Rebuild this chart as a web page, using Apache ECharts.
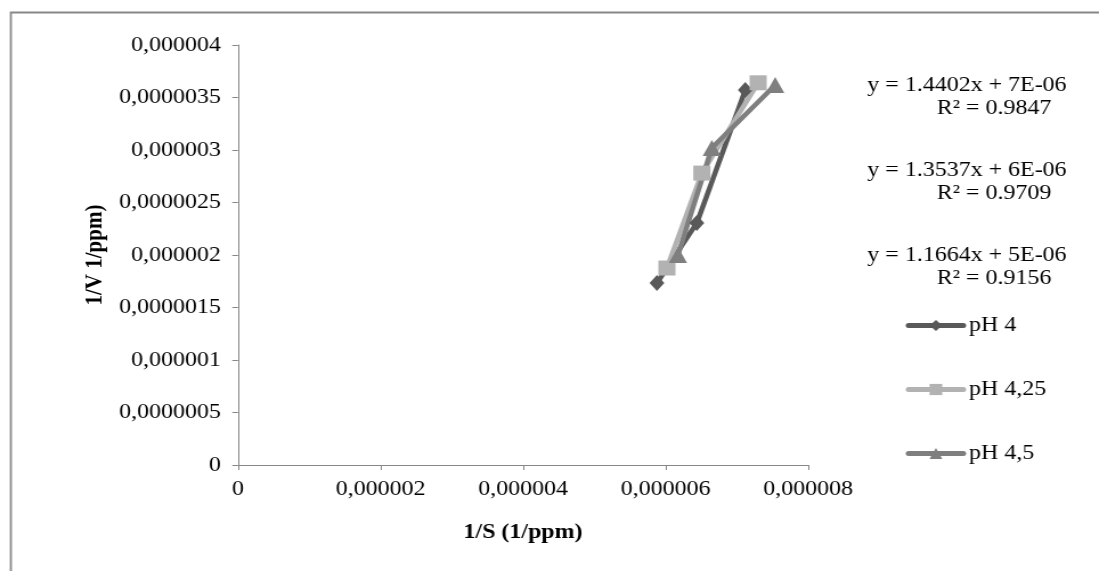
<!DOCTYPE html>
<html>
<head>
<meta charset="utf-8">
<script src="https://cdn.jsdelivr.net/npm/echarts@6/dist/echarts.min.js"></script>
<style>
  html, body { margin: 0; padding: 0; background: #fff; overflow: hidden; }
  /* the source picture is a bit stretched sideways, so draw narrower and widen */
  #chart { width: 964px; height: 571px; transform: scaleX(1.14); transform-origin: 0 0; }
</style>
</head>
<body>
<div id="chart"></div>
<script>
// data: [1/S, 1/V]
const ph4 = [[5.88e-6, 1.733e-6], [6.44e-6, 2.305e-6], [7.12e-6, 3.571e-6]];
const ph425 = [[6.02e-6, 1.876e-6], [6.51e-6, 2.78e-6], [7.30e-6, 3.64e-6]];
const ph45 = [[6.175e-6, 2.0e-6], [6.65e-6, 3.02e-6], [7.54e-6, 3.62e-6]];
const seriesNames = ['pH 4', 'pH 4,25', 'pH 4,5'];

const xStep = 2e-6;
const yStep = 5e-7;
const xTickLabels = ['0', '0,000002', '0,000004', '0,000006', '0,000008'];
const yTickLabels = ['0', '0,0000005', '0,000001', '0,0000015', '0,000002',
  '0,0000025', '0,000003', '0,0000035', '0,000004'];

const trendLines = [
  ['y = 1.4402x + 7E-06', 'R² = 0.9847'],
  ['y = 1.3537x + 6E-06', 'R² = 0.9709'],
  ['y = 1.1664x + 5E-06', 'R² = 0.9156']
];

const font = 'Liberation Serif';
const fs = 21;
const sx = 1.14;
const W = 964;
const axisColor = '#868686';

const eqText = [];
trendLines.forEach((t, i) => {
  eqText.push({
    type: 'text', x: 967 / sx, y: 85 + i * 85,
    style: { text: t[0], font: fs + 'px ' + font, fill: '#000', align: 'center', verticalAlign: 'middle' }
  });
  eqText.push({
    type: 'text', x: 994 / sx, y: 108 + i * 85,
    style: { text: t[1], font: fs + 'px ' + font, fill: '#000', align: 'center', verticalAlign: 'middle' }
  });
});

const options = {
  animation: false,
  textStyle: { fontFamily: font },
  grid: {
    left: 238 / sx,
    right: W - 808 / sx,
    top: 45,
    bottom: 106
  },
  legend: {
    orient: 'vertical',
    left: 900 / sx,
    top: 310,
    itemWidth: 48,
    itemHeight: 14,
    itemGap: 43,
    lineStyle: { width: 5, cap: 'round' },
    textStyle: { fontFamily: font, fontSize: fs, color: '#000' },
    data: seriesNames
  },
  xAxis: {
    type: 'value',
    min: 0,
    max: 8e-6,
    interval: xStep,
    name: '1/S (1/ppm)',
    nameLocation: 'middle',
    nameGap: 57,
    nameTextStyle: { fontFamily: font, fontSize: fs, fontWeight: 'bold', color: '#000' },
    splitLine: { show: false },
    axisLine: { onZero: false, lineStyle: { color: axisColor, width: 1 } },
    axisTick: { show: true, length: 5, lineStyle: { color: axisColor } },
    axisLabel: {
      margin: 14,
      fontSize: fs,
      fontFamily: font,
      color: '#000',
      formatter: v => xTickLabels[Math.round(v / xStep)]
    }
  },
  yAxis: {
    type: 'value',
    min: 0,
    max: 4e-6,
    interval: yStep,
    name: '1/V 1/ppm)',
    nameLocation: 'middle',
    nameGap: 115,
    nameTextStyle: { fontFamily: font, fontSize: fs, fontWeight: 'bold', color: '#000' },
    splitLine: { show: false },
    axisLine: { show: true, onZero: false, lineStyle: { color: axisColor, width: 1 } },
    axisTick: { show: true, length: 5, lineStyle: { color: axisColor } },
    axisLabel: {
      margin: 15,
      fontSize: fs,
      fontFamily: font,
      color: '#000',
      formatter: v => yTickLabels[Math.round(v / yStep)]
    }
  },
  series: [
    {
      name: seriesNames[0], type: 'line', data: ph4,
      symbol: 'diamond', symbolSize: [13, 16],
      lineStyle: { color: '#595959', width: 4.5 },
      itemStyle: { color: '#595959' }
    },
    {
      name: seriesNames[1], type: 'line', data: ph425,
      symbol: 'rect', symbolSize: [15, 15],
      lineStyle: { color: '#b2b2b2', width: 4.5 },
      itemStyle: { color: '#b2b2b2' }
    },
    {
      name: seriesNames[2], type: 'line', data: ph45,
      symbol: 'triangle', symbolSize: [16, 16],
      lineStyle: { color: '#7f7f7f', width: 4.5 },
      itemStyle: { color: '#7f7f7f' }
    }
  ],
  graphic: [
    {
      type: 'rect', left: 8 / sx, top: 10,
      shape: { width: 1200, height: 700 },
      style: { fill: 'none', stroke: '#878787', lineWidth: 1.8 }
    }
  ].concat(eqText)
};

const chart = echarts.init(document.getElementById('chart'));
chart.setOption(options);
</script>
</body>
</html>
